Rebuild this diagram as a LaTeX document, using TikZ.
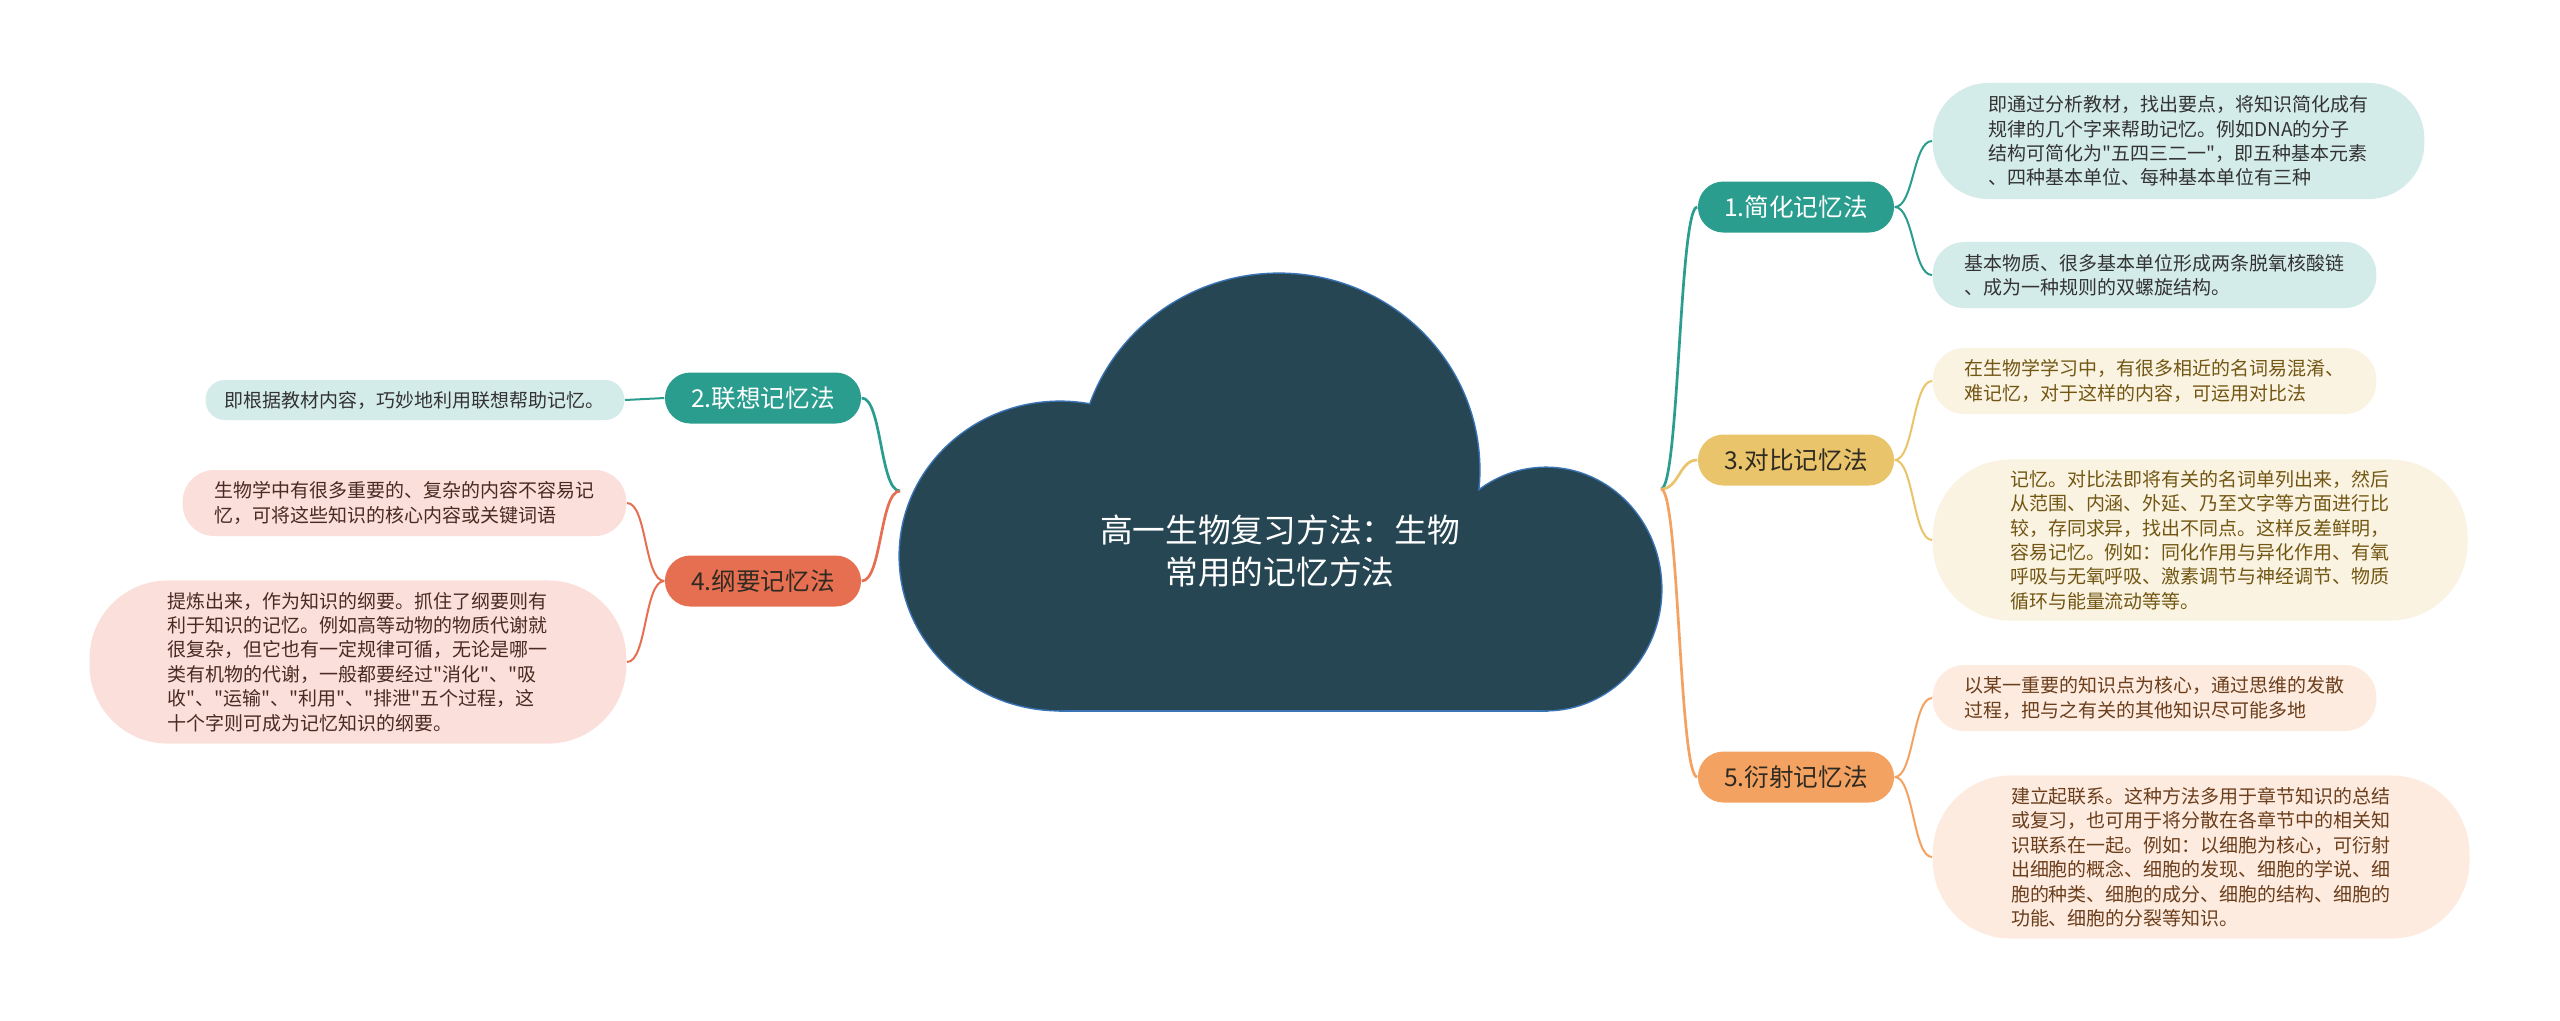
\documentclass[tikz,border=0pt]{standalone}
\usepackage{fontspec}
\setmainfont{Noto Sans CJK SC}
\usepackage{xcolor}
\usepackage{tikz}
\definecolor{MMCloud}{HTML}{264653}
\definecolor{MMCloudEdge}{HTML}{3A74B5}
\definecolor{MMTeal}{HTML}{2A9D8F}
\definecolor{MMGold}{HTML}{E9C46A}
\definecolor{MMSand}{HTML}{F4A261}
\definecolor{MMCoral}{HTML}{E76F51}
\definecolor{MMTealLeaf}{HTML}{D4ECE9}
\definecolor{MMGoldLeaf}{HTML}{FBF3E1}
\definecolor{MMSandLeaf}{HTML}{FDEBDF}
\definecolor{MMCoralLeaf}{HTML}{FADFDA}
\definecolor{MMInk}{HTML}{333333}
\definecolor{MMDark}{HTML}{2F2A22}
\definecolor{MMGoldInk}{HTML}{725714}
\definecolor{MMSandInk}{HTML}{6B3E1C}
\definecolor{MMCoralInk}{HTML}{4A2A22}
\newcommand{\dq}{\textquotedbl{}}
\tikzset{
  branch/.style={rounded corners=2.55mm, minimum width=19.6mm, minimum height=5.1mm, inner sep=0pt, font=\fontsize{7pt}{8pt}\selectfont},
  leaf/.style={text width=38mm, align=left, inner ysep=0pt, font=\fontsize{5.4pt}{6.95pt}\selectfont},
  leafh/.style={minimum height=#1, inner xsep=0.48*#1, rounded corners=0.48*#1},
  mainline/.style={line width=0.27mm},
  leafline/.style={line width=0.2mm}
}

\begin{document}
\begin{tikzpicture}[x=0.01cm,y=-0.01cm]
\path[use as bounding box] (0,0) rectangle (2560,1020);
\fill[white] (0,0) rectangle (2560,1020);
% cloud: outline first, then fill on top
\draw[MMCloudEdge, line width=0.3mm] (1060,556) ellipse [x radius=16mm, y radius=15.4mm];
\draw[MMCloudEdge, line width=0.3mm] (1279,470) ellipse [x radius=20mm, y radius=19.6mm];
\draw[MMCloudEdge, line width=0.3mm] (1546,589) ellipse [x radius=11.5mm, y radius=12.1mm];
\draw[MMCloudEdge, line width=0.3mm] (1060,556) rectangle (1546,710);
\fill[MMCloud] (1060,556) ellipse [x radius=16mm, y radius=15.4mm];
\fill[MMCloud] (1279,470) ellipse [x radius=20mm, y radius=19.6mm];
\fill[MMCloud] (1546,589) ellipse [x radius=11.5mm, y radius=12.1mm];
\fill[MMCloud] (1060,556) rectangle (1546,710);
\node[text=white, align=center, font=\fontsize{9.3pt}{12.2pt}\selectfont] (title) at (1280,551) {高一生物复习方法：生物\\常用的记忆方法};
\coordinate (rj) at (1661,489);
\coordinate (lj) at (900,491);

% main branches
\node[branch, fill=MMTeal, text=white] (jh) at (1796,207) {1.简化记忆法};
\node[branch, fill=MMGold, text=MMDark] (db) at (1796,460) {3.对比记忆法};
\node[branch, fill=MMSand, text=MMDark] (ys) at (1796,777) {5.衍射记忆法};
\node[branch, fill=MMTeal, text=white] (lx) at (763,398) {2.联想记忆法};
\node[branch, fill=MMCoral, text=MMDark] (gy) at (763,581) {4.纲要记忆法};

% leaves, right
\node[leaf, leafh=11.6mm, fill=MMTealLeaf, text=MMInk, anchor=west] (jha) at (1932,141) {即通过分析教材，找出要点，将知识简化成有\\规律的几个字来帮助记忆。例如DNA的分子\\结构可简化为\dq 五四三二一\dq ，即五种基本元素\\、四种基本单位、每种基本单位有三种};
\node[leaf, leafh=6.6mm, fill=MMTealLeaf, text=MMInk, anchor=west] (jhb) at (1932,275) {基本物质、很多基本单位形成两条脱氧核酸链\\、成为一种规则的双螺旋结构。};
\node[leaf, leafh=6.6mm, fill=MMGoldLeaf, text=MMGoldInk, anchor=west] (dba) at (1932,381) {在生物学学习中，有很多相近的名词易混淆、\\难记忆，对于这样的内容，可运用对比法};
\node[leaf, leafh=16.1mm, fill=MMGoldLeaf, text=MMGoldInk, anchor=west] (dbb) at (1932,540) {记忆。对比法即将有关的名词单列出来，然后\\从范围、内涵、外延、乃至文字等方面进行比\\较，存同求异，找出不同点。这样反差鲜明，\\容易记忆。例如：同化作用与异化作用、有氧\\呼吸与无氧呼吸、激素调节与神经调节、物质\\循环与能量流动等等。};
\node[leaf, leafh=6.6mm, fill=MMSandLeaf, text=MMSandInk, anchor=west] (ysa) at (1932,698) {以某一重要的知识点为核心，通过思维的发散\\过程，把与之有关的其他知识尽可能多地};
\node[leaf, leafh=16.3mm, fill=MMSandLeaf, text=MMSandInk, anchor=west] (ysb) at (1932,857) {建立起联系。这种方法多用于章节知识的总结\\或复习，也可用于将分散在各章节中的相关知\\识联系在一起。例如：以细胞为核心，可衍射\\出细胞的概念、细胞的发现、细胞的学说、细\\胞的种类、细胞的成分、细胞的结构、细胞的\\功能、细胞的分裂等知识。};

% leaves, left
\node[leaf, leafh=4mm, fill=MMTealLeaf, text=MMInk, anchor=east] (lxa) at (625,400) {即根据教材内容，巧妙地利用联想帮助记忆。};
\node[leaf, leafh=6.6mm, fill=MMCoralLeaf, text=MMCoralInk, anchor=east] (gya) at (627,503) {生物学中有很多重要的、复杂的内容不容易记\\忆，可将这些知识的核心内容或关键词语};
\node[leaf, leafh=16.3mm, fill=MMCoralLeaf, text=MMCoralInk, anchor=east] (gyb) at (627,662) {提炼出来，作为知识的纲要。抓住了纲要则有\\利于知识的记忆。例如高等动物的物质代谢就\\很复杂，但它也有一定规律可循，无论是哪一\\类有机物的代谢，一般都要经过\dq 消化\dq 、\dq 吸\\收\dq 、\dq 运输\dq 、\dq 利用\dq 、\dq 排泄\dq 五个过程，这\\十个字则可成为记忆知识的纲要。};

% connectors
\draw[MMTeal, mainline] (rj) .. controls ([xshift=1.8mm]rj) and ([xshift=-1.8mm]jh.west) .. (jh.west);
\draw[MMGold, mainline] (rj) .. controls ([xshift=1.8mm]rj) and ([xshift=-1.8mm]db.west) .. (db.west);
\draw[MMSand, mainline] (rj) .. controls ([xshift=1.8mm]rj) and ([xshift=-1.8mm]ys.west) .. (ys.west);
\draw[MMTeal, mainline] (lj) .. controls ([xshift=-2mm]lj) and ([xshift=2mm]lx.east) .. (lx.east);
\draw[MMCoral, mainline] (lj) .. controls ([xshift=-2mm]lj) and ([xshift=2mm]gy.east) .. (gy.east);
\draw[MMTeal, leafline] (jh.east) .. controls ([xshift=1.9mm]jh.east) and ([xshift=-1.9mm]jha.west) .. (jha.west);
\draw[MMTeal, leafline] (jh.east) .. controls ([xshift=1.9mm]jh.east) and ([xshift=-1.9mm]jhb.west) .. (jhb.west);
\draw[MMGold, leafline] (db.east) .. controls ([xshift=1.9mm]db.east) and ([xshift=-1.9mm]dba.west) .. (dba.west);
\draw[MMGold, leafline] (db.east) .. controls ([xshift=1.9mm]db.east) and ([xshift=-1.9mm]dbb.west) .. (dbb.west);
\draw[MMSand, leafline] (ys.east) .. controls ([xshift=1.9mm]ys.east) and ([xshift=-1.9mm]ysa.west) .. (ysa.west);
\draw[MMSand, leafline] (ys.east) .. controls ([xshift=1.9mm]ys.east) and ([xshift=-1.9mm]ysb.west) .. (ysb.west);
\draw[MMTeal, leafline] (lx.west) -- (lxa.east);
\draw[MMCoral, leafline] (gy.west) .. controls ([xshift=-2mm]gy.west) and ([xshift=2mm]gya.east) .. (gya.east);
\draw[MMCoral, leafline] (gy.west) .. controls ([xshift=-2mm]gy.west) and ([xshift=2mm]gyb.east) .. (gyb.east);
\end{tikzpicture}
\end{document}
